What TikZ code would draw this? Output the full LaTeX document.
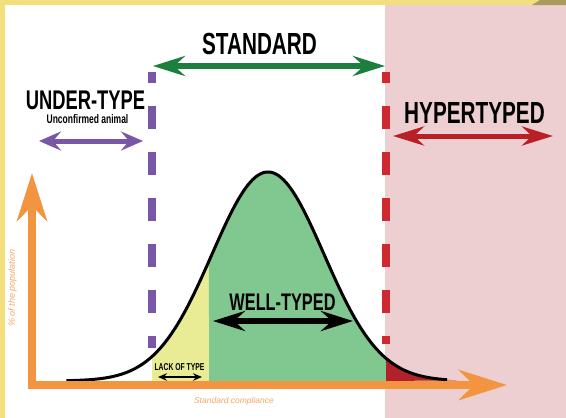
\documentclass[tikz,border=0pt]{standalone}
\usepackage{fontspec}
\usetikzlibrary{arrows.meta}
\newfontfamily\cond[FakeStretch=0.68]{Liberation Sans}
\newfontfamily\lsans{Liberation Sans}
\definecolor{bandyellow}{HTML}{F3E07C}
\definecolor{olive}{HTML}{A99B5B}
\definecolor{pinkbg}{HTML}{EDCFD2}
\definecolor{axisorange}{HTML}{F39441}
\definecolor{lightorange}{HTML}{F6A86A}
\definecolor{purp}{HTML}{7A57A6}
\definecolor{reddash}{HTML}{CC2A30}
\definecolor{redarrow}{HTML}{B82028}
\definecolor{darkred}{HTML}{B3222A}
\definecolor{greenarrow}{HTML}{1C7F3D}
\definecolor{greenfill}{HTML}{80C790}
\definecolor{yellowfill}{HTML}{EAEB95}
\tikzset{
  bigtitle/.style={inner sep=0pt, anchor=base, font=\cond\bfseries\fontsize{30.5}{32}\selectfont},
  midtitle/.style={inner sep=0pt, anchor=base, font=\cond\bfseries\fontsize{27}{29}\selectfont},
  welltitle/.style={inner sep=0pt, anchor=base, font=\cond\bfseries\fontsize{24}{26}\selectfont},
  smalltitle/.style={inner sep=0pt, anchor=base, font=\cond\bfseries\fontsize{10}{11}\selectfont},
  subtitle/.style={inner sep=0pt, anchor=base, font=\cond\bfseries\fontsize{12.5}{13}\selectfont},
  axislabel/.style={inner sep=0pt, text=lightorange, font=\lsans\itshape\fontsize{8.5}{9}\selectfont},
  dashline/.style={line width=8pt, dash pattern=on 23pt off 23pt, dash phase=12pt},
  bigdouble/.style={line width=6pt, {Stealth[length=32pt,width=20pt,inset=11pt]}-{Stealth[length=32pt,width=20pt,inset=11pt]}},
  meddouble/.style={line width=5pt, {Stealth[length=22pt,width=19pt,inset=8pt]}-{Stealth[length=22pt,width=19pt,inset=8pt]}},
  hyperdouble/.style={line width=5pt, {Stealth[length=31pt,width=19pt,inset=10pt]}-{Stealth[length=31pt,width=19pt,inset=10pt]}},
  tinydouble/.style={line width=2.5pt, {Stealth[length=9pt,width=7.5pt,inset=3pt]}-{Stealth[length=9pt,width=7.5pt,inset=3pt]}},
  axisline/.style={line width=8pt, axisorange, line join=miter, {Stealth[length=48pt,width=30pt,inset=15pt]}-{Stealth[length=48pt,width=30pt,inset=15pt]}}
}
\begin{document}
\begin{tikzpicture}[x=1pt,y=-1pt]
\useasboundingbox (0,0) rectangle (566,418);
% background
\fill[white] (0,0) rectangle (566,418);
\fill[pinkbg] (385,5) rectangle (566,418);
\fill[bandyellow] (0,0) rectangle (566,5);
\fill[bandyellow] (0,0) rectangle (5,418);
\fill[olive] (532,5) -- (540,0) -- (566,0) -- (566,5) -- cycle;
% fills under the curve
\fill[yellowfill] (152,381) -- plot[domain=-2.0714:-1.0536, samples=30, variable=\u] ({268+56*\u},{381-209*exp(-\u*\u/2)}) -- (209,381) -- cycle;
\fill[greenfill] (209,381) -- plot[domain=-1.0536:2.1071, samples=80, variable=\u] ({268+56*\u},{381-209*exp(-\u*\u/2)}) -- (386,381) -- cycle;
\fill[darkred] (386,381) -- plot[domain=2.1071:3.4, samples=30, variable=\u] ({268+56*\u},{381-209*exp(-\u*\u/2)}) -- cycle;
% curve
\draw[line width=3pt, black] plot[domain=-3.6:3.2, samples=150, variable=\u] ({268+56*\u},{381-209*exp(-\u*\u/2)});
% axes
\coordinate (ytip) at (32,173);
\coordinate (origin) at (32,385);
\coordinate (xtip) at (507,385);
\draw[axisline] (ytip) -- (origin) -- (xtip);
% dashed lines
\coordinate (ptop) at (152,72);
\coordinate (pbot) at (152,348);
\coordinate (rtop) at (385.5,72);
\coordinate (rbot) at (385.5,344);
\draw[dashline, purp] (ptop) -- (pbot);
\draw[dashline, reddash] (rtop) -- (rbot);
% labels
\node[bigtitle] (standard) at (259.5,54) {STANDARD};
\node[midtitle] (under) at (85.5,109.5) {UNDER-TYPE};
\node[subtitle] (unconf) at (87.5,123.5) {Unconfirmed animal};
\node[bigtitle] (hyper) at (474.5,123) {HYPERTYPED};
\node[welltitle] (well) at (282.5,310) {WELL-TYPED};
\node[smalltitle] (lack) at (179.5,370) {LACK OF TYPE};
\node[axislabel, anchor=base] (xlab) at (234,403.5) {Standard compliance};
\node[axislabel, rotate=90, font=\lsans\itshape\fontsize{9}{10}\selectfont] (ylab) at (12.5,288) {\% of the population};
% double arrows
\coordinate (sL) at (153,66);
\coordinate (sR) at (385,66);
\draw[bigdouble, greenarrow] (sL) -- (sR);
\coordinate (uL) at (39,141);
\coordinate (uR) at (143,141);
\draw[meddouble, purp] (uL) -- (uR);
\coordinate (hL) at (393,136);
\coordinate (hR) at (553,136);
\draw[hyperdouble, redarrow] (hL) -- (hR);
\coordinate (wL) at (213,321);
\coordinate (wR) at (353,321);
\draw[bigdouble, black] (wL) -- (wR);
\coordinate (lL) at (158,377);
\coordinate (lR) at (202,377);
\draw[tinydouble, black] (lL) -- (lR);
\end{tikzpicture}
\end{document}
